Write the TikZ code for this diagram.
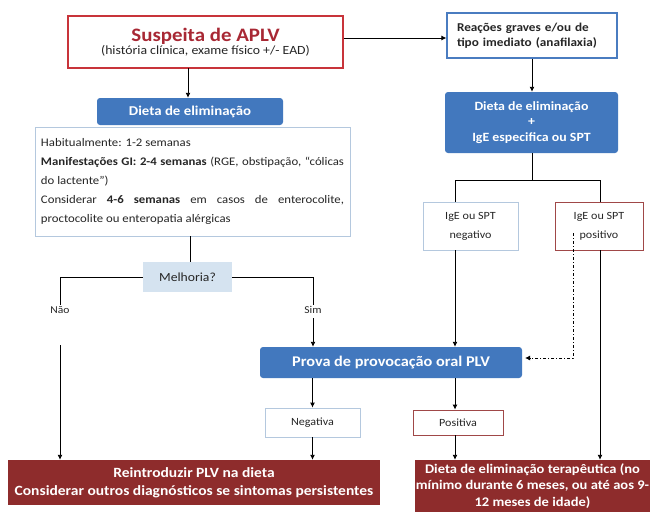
\documentclass[tikz,border=0pt]{standalone}
\usepackage{fontspec}
\setmainfont{Carlito}[FakeStretch=1.1]
\usetikzlibrary{arrows.meta,calc}
\definecolor{redborder}{RGB}{200,52,58}
\definecolor{redtitle}{RGB}{168,40,52}
\definecolor{bluefill}{RGB}{66,120,190}
\definecolor{blueborder}{RGB}{74,124,192}
\definecolor{darkred}{RGB}{142,44,44}
\definecolor{lightfill}{RGB}{213,227,240}
\definecolor{lightborder}{RGB}{180,200,222}
\definecolor{posborder}{RGB}{160,72,72}
\definecolor{txt}{RGB}{38,38,38}
\newcommand\nohyphens{\hyphenpenalty=10000\relax\exhyphenpenalty=10000\relax}
\begin{document}
\begin{tikzpicture}[x=1pt,y=-1pt,
  every node/.style={text=txt},
  arr/.style={-{Latex[length=5pt,width=5pt]},line width=0.9pt,draw=black},
  ln/.style={line width=0.9pt,draw=black},
  bluebox/.style={fill=bluefill,rounded corners=3pt,text=white,font=\bfseries,align=center,inner sep=0pt},
  redbox/.style={fill=darkred,text=white,font=\bfseries,align=center,inner sep=0pt},
  lightbox/.style={draw=lightborder,line width=0.8pt,fill=white,align=center,inner sep=0pt},
  posbox/.style={draw=posborder,line width=0.8pt,fill=white,align=center,inner sep=0pt},
  lbl/.style={font=\fontsize{10.5}{12}\selectfont,inner sep=1pt}
]
\useasboundingbox (0,0) rectangle (654,512);
\fill[white] (0,0) rectangle (654,512);

% left column
\node[draw=redborder,line width=1.6pt,fill=white,minimum width=275pt,minimum height=52pt,align=center,inner sep=0pt]
  (susp) at (205.5,42) {{\fontsize{19}{20}\selectfont\bfseries\color{redtitle}Suspeita de APLV}\\[0pt]{\fontsize{12.5}{14}\selectfont(história clínica, exame físico +/- EAD)}};
\node[lightbox,minimum width=315pt,minimum height=109pt,text width=303pt,align=justify,inner xsep=6pt,
  font=\fontsize{11.6}{18.8}\selectfont] (info) at (192.5,181.5)
  {\nohyphens Habitualmente: 1-2 semanas\par
   \textbf{Manifestações GI: 2-4 semanas} (RGE, obstipação, “cólicas\linebreak do lactente”)\par
   Considerar \textbf{4-6 semanas} em casos de enterocolite,\linebreak proctocolite ou enteropatia alérgicas};
\node[bluebox,minimum width=186pt,minimum height=27pt,font=\fontsize{13.5}{15}\selectfont\bfseries] (diet1) at (190,111.5) {Dieta de eliminação};
\node[fill=lightfill,minimum width=89pt,minimum height=30pt,inner sep=0pt,font=\fontsize{12.4}{14}\selectfont] (mel) at (187.5,277) {Melhoria?};
\node[lbl] (nao) at (60,310) {Não};
\node[lbl] (sim) at (313,310) {Sim};
\coordinate (naoB) at (60,345);
\coordinate (simB) at (313,318);
\node[bluebox,minimum width=262pt,minimum height=31pt,font=\fontsize{14.8}{16}\selectfont\bfseries] (prova) at (391,362.5) {Prova de provocação oral PLV};
\node[lightbox,minimum width=95pt,minimum height=29pt,font=\fontsize{11}{12}\selectfont] (neg) at (312.5,422.5) {Negativa};
\node[posbox,minimum width=90pt,minimum height=25pt,font=\fontsize{11}{12}\selectfont] (pos) at (458,422.5) {Positiva};
\node[redbox,minimum width=372pt,minimum height=45pt,font=\fontsize{14.1}{18}\selectfont\bfseries] (reint) at (194,482.5)
  {Reintroduzir PLV na dieta\\Considerar outros diagnósticos se sintomas persistentes};
\node[redbox,minimum width=235pt,minimum height=52pt,font=\fontsize{13.2}{16.5}\selectfont\bfseries] (terap) at (532.5,486)
  {Dieta de eliminação terapêutica (no\\mínimo durante 6 meses, ou até aos 9-\\12 meses de idade)};

% right column
\node[draw=blueborder,line width=1.2pt,fill=white,minimum height=45pt,inner xsep=10pt,inner ysep=0pt,
  text width=150pt,align=left,font=\fontsize{12}{15.5}\selectfont\bfseries] (reac) at (532,35.5)
  {Reações graves e/ou de\\tipo imediato (anafilaxia)};
\node[bluebox,minimum width=173pt,minimum height=61pt,font=\fontsize{12.6}{15.5}\selectfont\bfseries] (diet2) at (531.5,122.5)
  {Dieta de eliminação\\+\\IgE especifica ou SPT};
\node[lightbox,minimum width=95pt,minimum height=48pt,font=\fontsize{11}{19}\selectfont] (ineg) at (470.5,226) {IgE ou SPT\\negativo};
\node[posbox,minimum width=88pt,minimum height=48pt,font=\fontsize{11}{19}\selectfont] (ipos) at (599,226) {IgE ou SPT\\positivo};

\coordinate (branch) at (532,180);
\coordinate (bl) at (455,180);
\coordinate (br) at (600,180);
\coordinate (dashS) at (573,233);
\coordinate (dashC) at (573,358);
\coordinate (dashE) at (525,358);

% connectors
\draw[arr] (susp.east |- 0,38) -- (reac.west |- 0,38);
\draw[arr] (188,68) -- (diet1.north -| 188,0);
\draw[arr] (reac.south -| 532,0) -- (diet2.north -| 532,0);
\draw[ln] (info.south -| 190,0) -- (mel.north -| 190,0);
\draw[ln] (mel.west) -| (nao.north);
\draw[arr] (naoB) -- (reint.north -| naoB);
\draw[ln] (mel.east) -| (sim.north);
\draw[arr] (simB) -- (prova.north -| simB);
\draw[ln] (diet2.south -| branch) -- (branch);
\draw[ln] (bl |- ineg.north) -- (bl) -- (br) -- (br |- ipos.north);
\draw[arr] (ineg.south -| bl) -- (prova.north -| bl);
\draw[line width=0.9pt,dash pattern=on 3pt off 2pt on 1pt off 2pt,-{Latex[length=5pt,width=5pt]}] (dashS) -- (dashC) -- (dashE);
\draw[arr] (ipos.south -| br) -- (terap.north -| br);
\draw[arr] (prova.south -| neg.north) -- (neg.north);
\draw[arr] (prova.south -| 455,0) -- (pos.north -| 455,0);
\draw[arr] (neg.south) -- (reint.north -| neg.south);
\draw[arr] (pos.south -| 455,0) -- (terap.north -| 455,0);
\end{tikzpicture}
\end{document}
